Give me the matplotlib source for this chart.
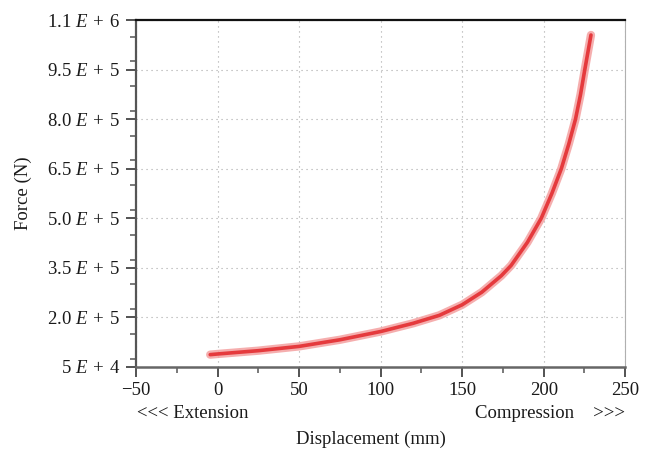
import matplotlib
matplotlib.use("Agg")
import matplotlib.pyplot as plt
from matplotlib.ticker import FixedLocator, MultipleLocator

plt.rcParams['font.family'] = ['Liberation Serif', 'DejaVu Serif']
plt.rcParams['mathtext.fontset'] = 'custom'
plt.rcParams['mathtext.rm'] = 'Liberation Serif'
plt.rcParams['mathtext.it'] = 'Liberation Serif:italic'

# Data
displacement = [-4.5, 0, 25, 50, 75, 100, 120, 136, 150, 162, 174, 180, 190,
                198.5, 205, 210.8, 215.4, 219.5, 222.6, 225.2, 229.0]
force = [8.7e4, 8.9e4, 9.9e4, 1.12e5, 1.32e5, 1.57e5, 1.82e5, 2.06e5, 2.38e5,
         2.76e5, 3.26e5, 3.57e5, 4.27e5, 5.0e5, 5.75e5, 6.5e5, 7.25e5, 8.0e5,
         8.75e5, 9.5e5, 1.055e6]

y_ticks = [5e4, 2.0e5, 3.5e5, 5.0e5, 6.5e5, 8.0e5, 9.5e5, 1.1e6]
y_labels = ['5 $E$\u2004+\u20044', '2.0 $E$\u2004+\u20045', '3.5 $E$\u2004+\u20045',
            '5.0 $E$\u2004+\u20045', '6.5 $E$\u2004+\u20045', '8.0 $E$\u2004+\u20045',
            '9.5 $E$\u2004+\u20045', '1.1 $E$\u2004+\u20046']
x_ticks = [-50, 0, 50, 100, 150, 200, 250]
x_labels = ['\u221250', '0', '50', '100', '150', '200', '250']

FS = 13.5

fig = plt.figure(figsize=(6.54, 4.58), dpi=100)
ax = fig.add_axes([0.208, 0.199, 0.748, 0.757])

ax.plot(displacement, force, color='#f4a0a0', lw=6.0, solid_capstyle='round',
        solid_joinstyle='round', alpha=0.85, zorder=3)
ax.plot(displacement, force, color='#e53a3d', lw=2.6, solid_capstyle='round',
        solid_joinstyle='round', zorder=4)

ax.set_xlim(-50, 250)
ax.set_ylim(5e4, 1.1e6)
ax.xaxis.set_major_locator(FixedLocator(x_ticks))
ax.set_xticklabels(x_labels)
ax.xaxis.set_minor_locator(MultipleLocator(25))
ax.yaxis.set_major_locator(FixedLocator(y_ticks))
ax.set_yticklabels(y_labels)
ax.yaxis.set_minor_locator(MultipleLocator(7.5e4))

ax.tick_params(axis='both', which='major', direction='out', length=7, width=1.3,
               colors='#444444', labelcolor='#1a1a1a', labelsize=FS, pad=4)
ax.tick_params(axis='both', which='minor', direction='out', length=4, width=1.1,
               colors='#555555')

ax.grid(True, which='major', color='#a8a8a8', linestyle=(0, (1, 3.5)), linewidth=0.8)
ax.set_axisbelow(True)

ax.spines['top'].set_color('#111111')
ax.spines['top'].set_linewidth(1.6)
ax.spines['left'].set_color('#555555')
ax.spines['left'].set_linewidth(1.6)
ax.spines['bottom'].set_color('#666666')
ax.spines['bottom'].set_linewidth(1.8)
ax.spines['right'].set_color('#b0b0b0')
ax.spines['right'].set_linewidth(0.8)

ax.set_ylabel('Force (N)', fontsize=FS, color='#1a1a1a')
ax.yaxis.set_label_coords(-0.212, 0.5)
fig.text(0.567, 0.040, 'Displacement (mm)', fontsize=FS, color='#1a1a1a',
         ha='center', va='center')
fig.text(0.209, 0.098, '<<< Extension', fontsize=FS, color='#1a1a1a',
         ha='left', va='center')
fig.text(0.956, 0.098, 'Compression    >>>', fontsize=FS, color='#1a1a1a',
         ha='right', va='center')

fig.savefig('out.png', dpi=100)
